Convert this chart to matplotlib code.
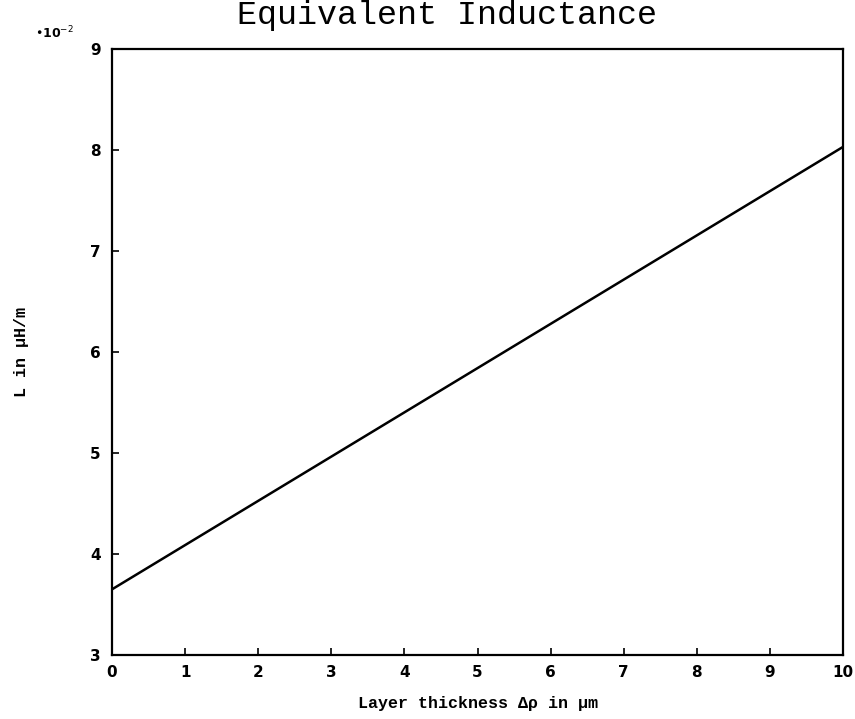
import matplotlib.pyplot as plt

# layer thickness (um) and equivalent inductance (x1e-2 uH/m)
thickness = [0, 2.5, 5, 7.5, 10]
inductance = [3.65, 4.745, 5.84, 6.935, 8.03]
xticks = list(range(0, 11))
yticks = [3, 4, 5, 6, 7, 8, 9]

fig = plt.figure(figsize=(8.55, 7.19), dpi=100)
ax = fig.add_axes([0.131, 0.089, 0.855, 0.843])

ax.plot(thickness, inductance, color='black', lw=1.8)
ax.set_xlim(0, 10)
ax.set_ylim(3, 9)
ax.set_xticks(xticks)
ax.set_yticks(yticks)
ax.tick_params(direction='in', length=5, width=1.2, top=False, right=False,
               labelsize=11)
ax.tick_params(axis='x', pad=7)
ax.tick_params(axis='y', pad=8)
for lab in ax.get_xticklabels() + ax.get_yticklabels():
    lab.set_fontweight('bold')
for s in ax.spines.values():
    s.set_linewidth(1.6)

ax.set_xlabel('Layer thickness Δρ in μm', fontsize=12, fontweight='bold',
              family='Liberation Mono', labelpad=12)
ax.set_ylabel('L in μH/m', fontsize=12, fontweight='bold',
              family='Liberation Mono', labelpad=44)
fig.text(0.041, 0.954, '•10$^{-2}$', fontsize=9, fontweight='bold', va='center')
fig.text(0.523, 0.979, 'Equivalent Inductance', fontsize=24,
         family='Liberation Mono', ha='center', va='center')

fig.savefig('out.png', dpi=100)
